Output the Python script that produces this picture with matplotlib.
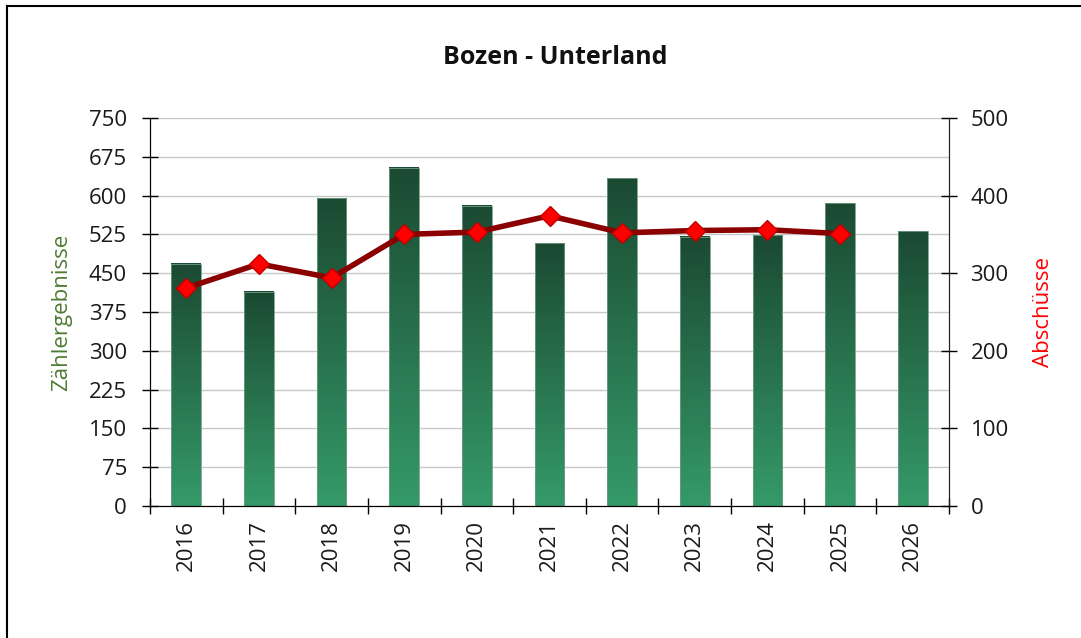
import numpy as np
import matplotlib
matplotlib.use("Agg")
import matplotlib.pyplot as plt
from matplotlib.colors import LinearSegmentedColormap
from matplotlib.lines import Line2D

plt.rcParams["font.family"] = ["Open Sans", "DejaVu Sans"]

years = ["2016", "2017", "2018", "2019", "2020", "2021", "2022", "2023", "2024", "2025", "2026"]
counts = [468, 414, 595, 654, 580, 508, 634, 520, 523, 585, 531]
kills = [281, 312, 294, 350, 353, 374, 352, 355, 356, 351]

fig = plt.figure(figsize=(10.81, 6.38), dpi=100)
ax = fig.add_axes([150 / 1081, 1 - 506 / 638, 799 / 1081, 388 / 638])
ax2 = ax.twinx()

x = np.arange(len(years))
w = 0.41
cmap = LinearSegmentedColormap.from_list("bar", ["#359a69", "#1b4a32"])
grad = np.linspace(0, 1, 256).reshape(-1, 1)
for xi, v in zip(x, counts):
    ax.imshow(grad, cmap=cmap, origin="lower", aspect="auto",
              extent=(xi - w / 2, xi + w / 2, 0, v), zorder=2)
    ax.add_patch(plt.Rectangle((xi - w / 2, 0), w, v, fill=False,
                               edgecolor="#6f9c83", lw=0.6, zorder=3))

ax.set_xlim(-0.5, len(years) - 0.5)
ax.set_ylim(0, 750)
ax.set_yticks(np.arange(0, 751, 75))
ax.yaxis.grid(True, color="#c8c8c8", lw=1)
ax.set_axisbelow(True)
ax.set_xticks(x)
ax.set_xticklabels(years, rotation=90, fontsize=16, color="#1a1a1a")
ax.set_xticks(np.arange(-0.5, len(years), 1), minor=True)
ax.tick_params(axis="x", which="major", length=0, pad=10)
ax.tick_params(axis="x", which="minor", direction="inout", length=11, width=1)
ax.tick_params(axis="y", direction="inout", length=11, width=1, labelsize=16,
               labelcolor="#1a1a1a", pad=11)
ax.spines["top"].set_visible(False)
for s in ["left", "bottom", "right"]:
    ax.spines[s].set_color("#222222")

ax2.plot(x[:len(kills)], kills, color="#8b0000", lw=4, zorder=4,
         marker="D", markersize=10, markerfacecolor="#ff0000",
         markeredgecolor="#c00000", markeredgewidth=1)
ax2.set_ylim(0, 500)
ax2.set_yticks(np.arange(0, 501, 100))
ax2.tick_params(axis="y", direction="inout", length=11, width=1, labelsize=16,
                labelcolor="#1a1a1a", pad=10)
ax2.spines["top"].set_visible(False)
ax2.spines["right"].set_color("#222222")
ax.set_zorder(1)
ax2.set_zorder(2)
ax2.patch.set_visible(False)

ax.set_ylabel("Zählergebnisse", color="#4f7a33", fontsize=16)
ax.yaxis.set_label_coords(-0.098, 0.5)
ax2.set_ylabel("Abschüsse", color="#ff0000", fontsize=16)
ax2.yaxis.set_label_coords(1.105, 0.5)
fig.text(555 / 1081, 1 - 58 / 638, "Bozen - Unterland", ha="center", va="center",
         fontsize=18, fontweight="bold", color="#111111")

fig.add_artist(Line2D([7 / 1081, 7 / 1081], [0, 1 - 6 / 638], color="black", lw=1.5,
                      transform=fig.transFigure))
fig.add_artist(Line2D([7 / 1081, 1], [1 - 6 / 638, 1 - 6 / 638], color="black", lw=1.5,
                      transform=fig.transFigure))

fig.savefig("out.png", dpi=100)
